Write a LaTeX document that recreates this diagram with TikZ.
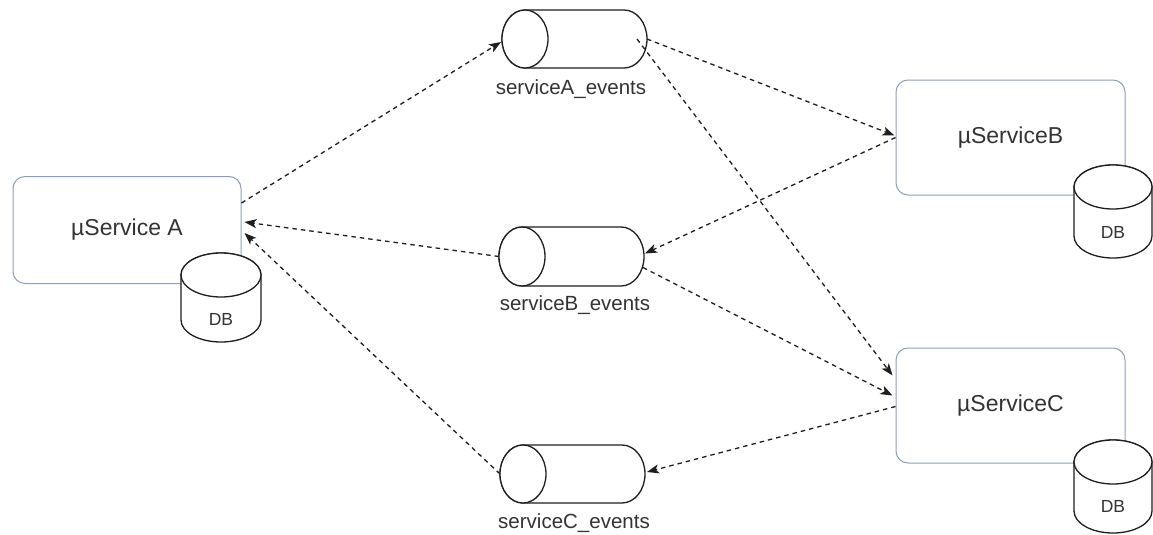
\documentclass[tikz,border=0pt]{standalone}
\usepackage{fontspec}
\setmainfont{Liberation Sans}
\usetikzlibrary{arrows.meta,calc}

\definecolor{svcedge}{RGB}{140,160,186}
\definecolor{txt}{RGB}{51,51,51}
\definecolor{ink}{RGB}{30,30,30}

\tikzset{
  svc/.style={draw=svcedge, line width=1pt, rounded corners=12pt, fill=white,
              text=txt, font=\fontsize{23}{27}\selectfont, inner sep=0pt},
  holder/.style={inner sep=0pt, outer sep=0pt},
  cyl/.style={draw=ink, line width=1.3pt, fill=white},
  flow/.style={draw=ink, line width=1.3pt, dash pattern=on 4.5pt off 4pt,
               -{Stealth[length=12pt,width=9pt,inset=3pt]}},
  qlabel/.style={text=txt, font=\fontsize{20.5}{24}\selectfont, inner sep=0pt},
  dblabel/.style={text=txt, font=\fontsize{17.5}{21}\selectfont, inner sep=0pt}
}

% vertical database cylinder: centre x, top y, x radius, height, y radius
\newcommand\dbcylinder[5]{%
  \draw[cyl] ({#1-#3},{#2+#5}) -- ({#1-#3},{#2+#4-#5})
    arc[start angle=180, end angle=360, x radius=#3pt, y radius=#5pt]
    -- ({#1+#3},{#2+#5})
    arc[start angle=0, end angle=180, x radius=#3pt, y radius=#5pt] -- cycle;
  \draw[cyl] (#1,{#2+#5}) ellipse[x radius=#3pt, y radius=#5pt];
}

% horizontal queue cylinder: left x, right x, centre y, x radius, y radius
\newcommand\queuecylinder[5]{%
  \draw[cyl] ({#1+#4},{#3-#5}) -- ({#2-#4},{#3-#5})
    arc[start angle=90, end angle=-90, x radius=#4pt, y radius=#5pt]
    -- ({#1+#4},{#3+#5})
    arc[start angle=270, end angle=90, x radius=#4pt, y radius=#5pt] -- cycle;
  \draw[cyl] ({#1+#4},#3) ellipse[x radius=#4pt, y radius=#5pt];
}

\begin{document}
\begin{tikzpicture}[x=1pt, y=-1pt]
  \useasboundingbox[fill=white] (0,0) rectangle (1153,535);

  % services
  \node[svc, minimum width=228pt, minimum height=107pt] (sa) at (127,230) {µService A};
  \node[svc, minimum width=229pt, minimum height=115pt] (sb) at (1010.5,137.5) {µServiceB};
  \node[svc, minimum width=229pt, minimum height=115pt] (sc) at (1010.5,405.5) {µServiceC};

  % databases
  \dbcylinder{221}{253}{40}{89}{22}
  \node[dblabel] (dba) at (221,319) {DB};
  \dbcylinder{1113}{165}{39}{93}{22}
  \node[dblabel] (dbb) at (1113,232) {DB};
  \dbcylinder{1113}{440}{39}{93}{22}
  \node[dblabel] (dbc) at (1113,506) {DB};

  % event queues
  \queuecylinder{502}{647}{39}{23}{29}
  \node[holder, minimum width=145pt, minimum height=58pt] (qa) at (574.5,39) {};
  \node[qlabel] (qal) at (571,89) {serviceA\_events};

  \queuecylinder{499}{644}{256.5}{23}{29.5}
  \node[holder, minimum width=145pt, minimum height=59pt] (qb) at (571.5,256.5) {};
  \node[qlabel] (qbl) at (575,305) {serviceB\_events};

  \queuecylinder{500}{645}{474}{23}{29}
  \node[holder, minimum width=145pt, minimum height=58pt] (qc) at (572.5,474) {};
  \node[qlabel] (qcl) at (574,523) {serviceC\_events};

  % event flows
  \draw[flow] ($(sa.east)+(0,-27)$) -- ($(qa.west)+(-1,3)$);
  \draw[flow] (qa.east) -- ($(sb.west)+(-1,-2)$);
  \draw[flow] ($(qa.east)+(-10,0)$) -- ($(sc.west)+(-3,-30)$);
  \draw[flow] (sb.west) -- ($(qb.east)+(1,-3)$);
  \draw[flow] (qb.west) -- ($(sa.east)+(3,-8)$);
  \draw[flow] ($(qb.east)+(-1,11)$) -- ($(sc.west)+(-3,-10)$);
  \draw[flow] ($(sc.west)+(0,1)$) -- ($(qc.east)+(2,-2)$);
  \draw[flow] (qc.west) -- ($(sa.east)+(3,3)$);
\end{tikzpicture}
\end{document}
